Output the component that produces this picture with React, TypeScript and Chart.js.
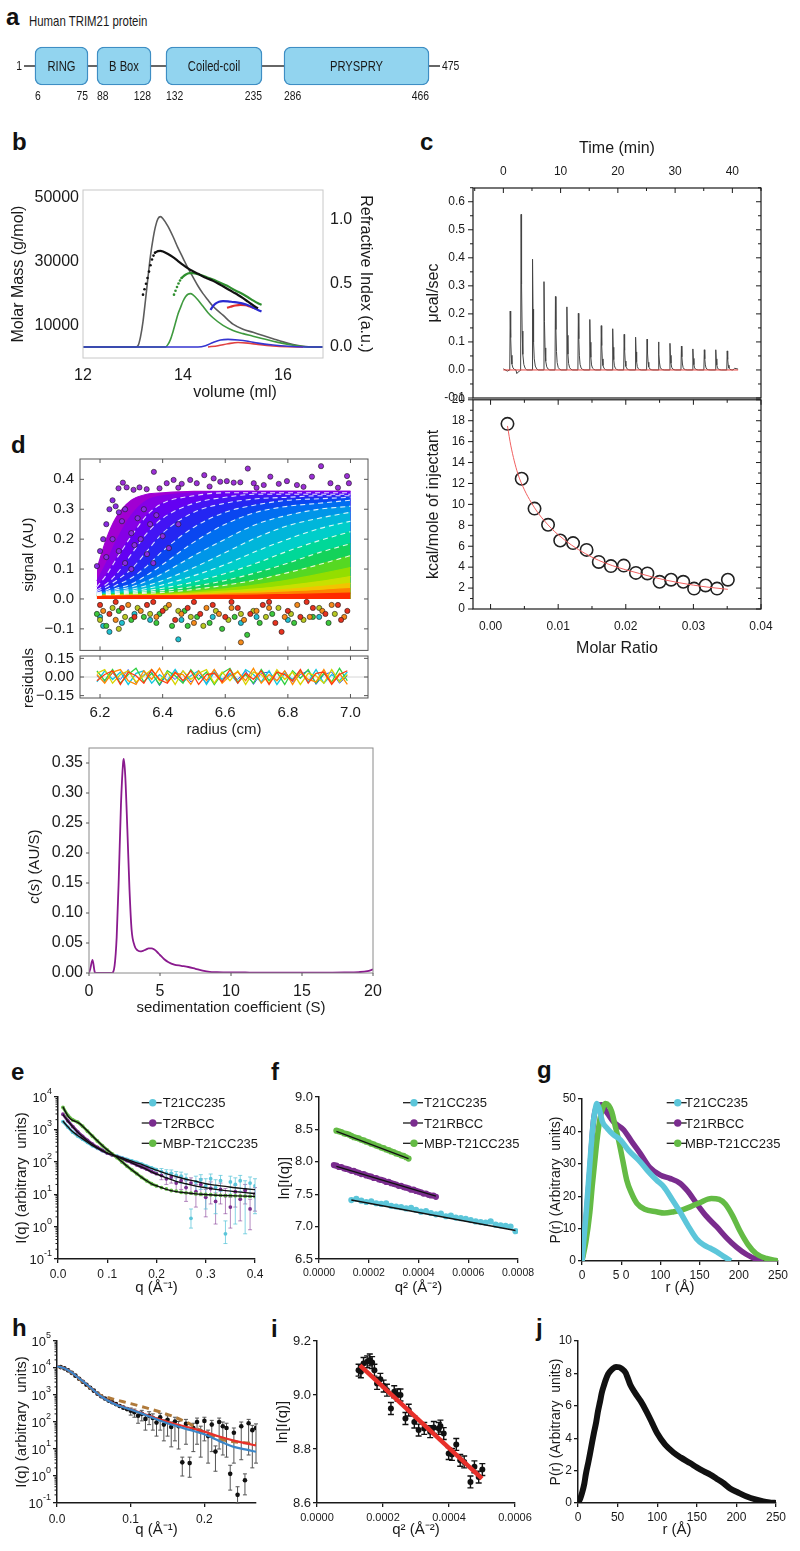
import React, { useEffect, useRef } from 'react';
import { Chart, registerables, LinearScale } from 'chart.js';

Chart.register(...registerables);

const SANS = '"Liberation Sans", Arial, Helvetica, sans-serif';
Chart.defaults.font.family = SANS;
Chart.defaults.color = '#1a1a1a';
Chart.defaults.plugins.legend.display = false;
Chart.defaults.plugins.tooltip.enabled = false;

/* =========================== DATA =========================== */

// (a) domain map of human TRIM21 (residue numbers)
const domainNames = ['RING', 'B Box', 'Coiled-coil', 'PRYSPRY'];
const domainStart = [6, 88, 132, 286];
const domainEnd = [75, 128, 235, 466];
const proteinFirst = 1;
const proteinLast = 475;

// (b) SEC-MALS: volume (ml) vs refractive index (a.u.) / molar mass (g/mol)
const secGrayRI = [[12, 0], [13.05, 0], [13.1, 0.01], [13.15, 0.08], [13.2, 0.2], [13.25, 0.37], [13.3, 0.55], [13.35, 0.72], [13.4, 0.85], [13.45, 0.95], [13.5, 1.01], [13.55, 1.026], [13.6, 1.01], [13.7, 0.95], [13.8, 0.87], [13.9, 0.78], [14.0, 0.7], [14.1, 0.62], [14.2, 0.55], [14.3, 0.48], [14.4, 0.42], [14.5, 0.37], [14.6, 0.32], [14.8, 0.25], [15.0, 0.18], [15.2, 0.14], [15.4, 0.115], [15.6, 0.09], [15.8, 0.065], [16.0, 0.04], [16.2, 0.02], [16.4, 0.006], [16.6, 0], [16.8, 0]];
const secGreenRI = [[12, 0], [13.65, 0], [13.7, 0.02], [13.75, 0.06], [13.8, 0.12], [13.85, 0.19], [13.9, 0.26], [13.95, 0.31], [14.0, 0.36], [14.05, 0.395], [14.1, 0.415], [14.15, 0.42], [14.2, 0.41], [14.3, 0.37], [14.4, 0.32], [14.5, 0.27], [14.6, 0.23], [14.8, 0.17], [15.0, 0.13], [15.2, 0.105], [15.4, 0.085], [15.6, 0.065], [15.8, 0.045], [16.0, 0.028], [16.2, 0.014], [16.4, 0.004], [16.6, 0], [16.8, 0]];
const secBlueRI = [[12, 0], [14.3, 0], [14.45, 0.01], [14.6, 0.035], [14.75, 0.055], [14.9, 0.06], [15.1, 0.055], [15.3, 0.045], [15.5, 0.03], [15.8, 0.015], [16.1, 0.005], [16.4, 0], [16.8, 0]];
const secRedRI = [[14.5, 0], [14.7, 0.01], [14.9, 0.025], [15.1, 0.035], [15.3, 0.03], [15.5, 0.02], [15.8, 0.008], [16.1, 0.002], [16.4, 0]];
const secBlackMMDots = [[13.2, 19800], [13.23, 21500], [13.26, 23200], [13.29, 25000], [13.32, 27000], [13.35, 29000], [13.38, 30800], [13.41, 32000], [13.44, 32900]];
const secBlackMM = [[13.44, 32900], [13.5, 33400], [13.55, 33500], [13.6, 33300], [13.7, 32500], [13.8, 31500], [13.9, 30300], [14.0, 29100], [14.1, 28000], [14.2, 27100], [14.3, 26300], [14.4, 25500], [14.5, 24800], [14.6, 24100], [14.7, 23300], [14.8, 22400], [14.9, 21500], [15.0, 20600], [15.1, 19700], [15.2, 18700], [15.3, 17600], [15.4, 16500], [15.5, 15500]];
const secGreenMMDots = [[13.82, 19800], [13.85, 21000], [13.88, 22200], [13.91, 23300], [13.94, 24200], [13.97, 25000]];
const secGreenMM = [[13.97, 25000], [14.05, 26000], [14.13, 26500], [14.2, 26500], [14.3, 26200], [14.4, 25700], [14.5, 25100], [14.6, 24500], [14.7, 23800], [14.8, 23100], [14.9, 22400], [15.0, 21500], [15.1, 20700], [15.2, 19900], [15.3, 19000], [15.4, 18000], [15.5, 17100], [15.57, 16600]];
const secBlueMM = [[14.55, 15000], [14.6, 16200], [14.65, 17000], [14.72, 17600], [14.8, 17800], [14.9, 17700], [15.0, 17500], [15.1, 17300], [15.2, 17000], [15.3, 16500], [15.4, 15800], [15.5, 15000], [15.57, 14500]];
const secRedMM = [[14.88, 15700], [14.95, 16000], [15.05, 16400], [15.15, 16600], [15.25, 16500], [15.35, 16000], [15.45, 15500]];
const secVolumeTicks = [12, 14, 16];
const secMassTicks = [10000, 30000, 50000];
const secRITicks = [0, 0.5, 1];

// (c) ITC raw heats: injection times (min), peak heights (µcal/sec)
const itcTimes = [1.2, 3.1, 5.1, 7.1, 9.1, 11.1, 13.1, 15.1, 17.1, 19.1, 21.1, 23.1, 25.1, 27.1, 29.1, 31.1, 33.1, 35.1, 37.1, 39.1];
const itcHeights = [0.21, 0.555, 0.395, 0.315, 0.262, 0.225, 0.202, 0.18, 0.158, 0.147, 0.127, 0.117, 0.11, 0.1, 0.095, 0.085, 0.075, 0.072, 0.072, 0.068];
const itcSpikeOffsets = [-0.08, 0, 0.08, 0.18, 0.3, 0.48, 0.72, 1.0];
const itcSpikeFractions = [0, 1, 0.55, 0.25, 0.1, 0.035, 0.01, 0];
const itcBaseline = [[0, 0.004], [0.7, -0.004], [2.35, -0.013], [2.6, -0.007], [2.95, -0.002], [40.4, 0.006], [41, 0.003]];
// (c) integrated heats
const itcRatio = [0.0025, 0.0046, 0.0065, 0.0085, 0.0103, 0.0122, 0.0142, 0.016, 0.0178, 0.0197, 0.0215, 0.0232, 0.025, 0.0267, 0.0285, 0.0301, 0.0318, 0.0335, 0.0351];
const itcHeat = [17.7, 12.45, 9.6, 8.05, 6.55, 6.3, 5.65, 4.5, 4.1, 4.15, 3.45, 3.4, 2.6, 2.8, 2.6, 1.95, 2.25, 1.95, 2.8];
const itcFitRatio = [0.0025, 0.003, 0.004, 0.005, 0.006, 0.007, 0.008, 0.009, 0.01, 0.012, 0.014, 0.016, 0.018, 0.02, 0.022, 0.024, 0.026, 0.028, 0.03, 0.032, 0.0351];
const itcFitHeat = [17.5, 15.6, 13.0, 11.4, 10.2, 9.2, 8.4, 7.7, 7.1, 6.1, 5.3, 4.65, 4.15, 3.75, 3.4, 3.05, 2.75, 2.5, 2.28, 2.1, 1.88];
const itcTimeTicks = [0, 10, 20, 30, 40];
const itcPowerTicks = [-0.1, 0, 0.1, 0.2, 0.3, 0.4, 0.5, 0.6];
const itcHeatTicks = [0, 2, 4, 6, 8, 10, 12, 14, 16, 18, 20];
const itcRatioTicks = [0, 0.01, 0.02, 0.03, 0.04];

// (d) sedimentation velocity scans (radius cm, signal AU), early -> late
const sedRadius = [6.19, 6.22, 6.25, 6.3, 6.35, 6.4, 6.5, 6.6, 6.7, 6.8, 6.9, 7.0];
const sedScans = [
  [0.10, 0.20, 0.27, 0.33, 0.35, 0.355, 0.36, 0.36, 0.36, 0.36, 0.36, 0.36],
  [0.06, 0.12, 0.19, 0.28, 0.33, 0.345, 0.355, 0.36, 0.36, 0.36, 0.36, 0.36],
  [0.04, 0.08, 0.13, 0.21, 0.28, 0.32, 0.345, 0.355, 0.355, 0.355, 0.355, 0.355],
  [0.03, 0.05, 0.08, 0.15, 0.22, 0.27, 0.32, 0.34, 0.35, 0.35, 0.35, 0.35],
  [0.025, 0.04, 0.06, 0.10, 0.16, 0.22, 0.29, 0.32, 0.335, 0.34, 0.345, 0.345],
  [0.02, 0.03, 0.045, 0.07, 0.11, 0.16, 0.24, 0.29, 0.315, 0.33, 0.335, 0.34],
  [0.02, 0.025, 0.035, 0.05, 0.08, 0.115, 0.19, 0.25, 0.29, 0.31, 0.32, 0.33],
  [0.018, 0.022, 0.03, 0.04, 0.06, 0.085, 0.145, 0.2, 0.25, 0.28, 0.3, 0.31],
  [0.016, 0.02, 0.025, 0.032, 0.045, 0.062, 0.105, 0.155, 0.205, 0.245, 0.27, 0.29],
  [0.015, 0.018, 0.022, 0.027, 0.035, 0.047, 0.078, 0.115, 0.16, 0.2, 0.235, 0.26],
  [0.014, 0.016, 0.019, 0.023, 0.028, 0.036, 0.057, 0.085, 0.12, 0.16, 0.195, 0.225],
  [0.013, 0.015, 0.017, 0.02, 0.023, 0.028, 0.042, 0.062, 0.088, 0.12, 0.155, 0.185],
  [0.012, 0.014, 0.015, 0.017, 0.019, 0.022, 0.032, 0.046, 0.064, 0.088, 0.115, 0.145],
  [0.012, 0.013, 0.014, 0.015, 0.016, 0.018, 0.025, 0.034, 0.047, 0.063, 0.083, 0.105],
  [0.011, 0.012, 0.013, 0.013, 0.014, 0.015, 0.02, 0.026, 0.034, 0.045, 0.058, 0.075],
  [0.01, 0.011, 0.011, 0.012, 0.012, 0.013, 0.016, 0.02, 0.025, 0.032, 0.041, 0.052],
  [0.01, 0.01, 0.01, 0.011, 0.011, 0.011, 0.013, 0.016, 0.019, 0.023, 0.028, 0.035],
  [0.009, 0.009, 0.009, 0.01, 0.01, 0.01, 0.011, 0.012, 0.013, 0.015, 0.017, 0.02],
];
const sedTopDots = [[6.259, 0.37], [6.273, 0.389], [6.285, 0.373], [6.307, 0.365], [6.326, 0.373], [6.349, 0.367], [6.372, 0.425], [6.39, 0.37], [6.413, 0.387], [6.435, 0.398], [6.461, 0.385], [6.488, 0.398], [6.509, 0.387], [6.533, 0.414], [6.563, 0.403], [6.584, 0.392], [6.605, 0.394], [6.627, 0.389], [6.648, 0.39], [6.672, 0.436], [6.691, 0.387], [6.723, 0.381], [6.744, 0.409], [6.771, 0.385], [6.797, 0.394], [6.829, 0.381], [6.877, 0.409], [6.906, 0.444], [6.936, 0.387], [6.989, 0.411], [6.995, 0.387], [6.45, 0.372], [6.55, 0.376], [6.7, 0.372], [6.85, 0.375], [6.96, 0.372]];
const sedRiseDots = [[6.19, 0.11], [6.2, 0.16], [6.21, 0.2], [6.22, 0.25], [6.23, 0.3], [6.24, 0.33], [6.25, 0.31], [6.26, 0.29], [6.27, 0.26], [6.28, 0.3], [6.3, 0.22], [6.32, 0.27], [6.34, 0.3], [6.36, 0.25], [6.38, 0.28], [6.31, 0.18], [6.33, 0.2], [6.35, 0.15], [6.22, 0.14], [6.24, 0.2], [6.26, 0.16], [6.28, 0.12], [6.3, 0.1], [6.4, 0.21], [6.42, 0.17], [6.45, 0.25], [6.37, 0.12]];
const sedDotsRed = [[6.2, -0.02], [6.23, -0.05], [6.27, -0.03], [6.31, -0.06], [6.35, -0.02], [6.4, -0.04], [6.44, -0.07], [6.48, -0.03], [6.52, -0.05], [6.56, -0.02], [6.6, -0.06], [6.64, -0.03], [6.68, -0.05], [6.72, -0.02], [6.76, -0.08], [6.78, -0.11], [6.8, -0.04], [6.84, -0.06], [6.88, -0.03], [6.92, -0.05], [6.96, -0.02], [6.99, -0.04], [6.25, -0.01], [6.37, -0.01], [6.5, -0.01], [6.62, -0.01], [6.74, -0.01], [6.86, -0.01], [6.97, -0.07]];
const sedDotsOrange = [[6.21, -0.04], [6.25, -0.07], [6.29, -0.02], [6.33, -0.04], [6.38, -0.06], [6.42, -0.02], [6.46, -0.05], [6.5, -0.08], [6.54, -0.03], [6.58, -0.05], [6.62, -0.03], [6.65, -0.145], [6.66, -0.07], [6.7, -0.04], [6.74, -0.03], [6.79, -0.06], [6.83, -0.02], [6.87, -0.06], [6.91, -0.04], [6.94, -0.02], [6.98, -0.06]];
const sedDotsYellow = [[6.2, -0.07], [6.24, -0.03], [6.28, -0.06], [6.32, -0.03], [6.36, -0.05], [6.41, -0.03], [6.45, -0.04], [6.49, -0.06], [6.53, -0.09], [6.57, -0.04], [6.61, -0.07], [6.65, -0.05], [6.69, -0.04], [6.73, -0.06], [6.77, -0.03], [6.81, -0.05], [6.85, -0.07], [6.9, -0.03], [6.95, -0.05], [6.26, -0.1]];
const sedDotsGreen = [[6.19, -0.05], [6.22, -0.09], [6.26, -0.04], [6.3, -0.07], [6.34, -0.06], [6.39, -0.05], [6.43, -0.09], [6.47, -0.04], [6.51, -0.06], [6.55, -0.08], [6.59, -0.1], [6.63, -0.06], [6.67, -0.12], [6.71, -0.08], [6.75, -0.05], [6.82, -0.08], [6.88, -0.06], [6.93, -0.08], [6.48, -0.09], [6.38, -0.08]];
const sedDotsCyan = [[6.2, -0.06], [6.21, -0.09], [6.23, -0.11], [6.27, -0.08], [6.31, -0.05], [6.36, -0.07], [6.46, -0.07], [6.56, -0.06], [6.65, -0.08], [6.7, -0.06], [6.8, -0.07], [6.9, -0.06], [6.45, -0.135]];
const sedSignalTicks = [-0.1, 0, 0.1, 0.2, 0.3, 0.4];
const sedRadiusTicks = [6.2, 6.4, 6.6, 6.8, 7.0];
// (d) residuals
const resRadius = [6.19, 6.215, 6.24, 6.265, 6.29, 6.315, 6.34, 6.365, 6.39, 6.415, 6.44, 6.465, 6.49, 6.515, 6.54, 6.565, 6.59, 6.615, 6.64, 6.665, 6.69, 6.715, 6.74, 6.765, 6.79, 6.815, 6.84, 6.865, 6.89, 6.915, 6.94, 6.965, 6.99];
const resGreen = [0.05, -0.03, 0.06, -0.05, 0.02, 0.07, -0.04, 0.03, -0.06, 0.05, 0.01, -0.05, 0.06, -0.02, 0.04, -0.06, 0.03, 0.07, -0.04, 0.02, -0.05, 0.06, -0.03, 0.04, -0.06, 0.05, -0.01, 0.06, -0.05, 0.03, -0.04, 0.07, -0.03];
const resCyan = [-0.04, 0.05, -0.02, 0.04, -0.06, 0.03, 0.05, -0.05, 0.02, -0.03, 0.06, -0.04, 0.01, 0.05, -0.06, 0.04, -0.02, 0.03, -0.05, 0.06, 0.02, -0.04, 0.05, -0.06, 0.03, -0.02, 0.05, -0.04, 0.06, -0.05, 0.02, -0.03, 0.04];
const resYellow = [0.03, 0.06, -0.05, 0.02, 0.05, -0.04, 0.01, 0.06, -0.03, 0.04, -0.06, 0.05, -0.02, 0.03, 0.06, -0.05, 0.04, -0.03, 0.05, -0.06, 0.04, 0.02, -0.05, 0.06, -0.02, 0.04, -0.06, 0.03, 0.01, -0.05, 0.06, -0.04, 0.02];
const resOrange = [0.02, -0.05, 0.04, 0.06, -0.03, -0.06, 0.05, -0.02, 0.07, -0.04, 0.03, 0.02, -0.06, 0.05, -0.03, 0.06, -0.05, 0.01, 0.04, -0.03, 0.07, -0.05, 0.02, -0.03, 0.05, -0.06, 0.04, -0.02, -0.04, 0.06, -0.05, 0.03, -0.06];
const resRed = [-0.03, 0.02, 0.05, -0.06, 0.04, 0.01, -0.05, 0.06, -0.02, -0.05, 0.04, -0.03, 0.05, -0.06, 0.02, 0.03, -0.04, 0.06, -0.05, 0.03, -0.02, 0.05, -0.06, 0.04, 0.02, -0.03, 0.06, -0.05, 0.03, 0.04, -0.06, 0.02, 0.05];
const resBlue = [0.01, -0.04, 0.03, -0.02, 0.06, -0.05, 0.02, 0.04, -0.07, 0.03, -0.02, 0.05, -0.04, 0.02, -0.05, 0.06, -0.03, 0.02, -0.02, 0.05, -0.06, 0.03, 0.04, -0.03, 0.05, -0.04, 0.02, 0.05, -0.06, 0.02, 0.04, -0.05, 0.01];
const resTicks = [-0.15, 0, 0.15];
// (d) c(s) distribution
const csS = [0, 0.1, 0.25, 0.4, 0.5, 1.0, 1.6, 1.8, 1.95, 2.1, 2.25, 2.4, 2.45, 2.55, 2.7, 2.85, 3.0, 3.2, 3.4, 3.6, 3.8, 4.0, 4.2, 4.4, 4.6, 4.8, 5.0, 5.3, 5.6, 6.0, 6.5, 7.0, 7.5, 8.0, 8.5, 9.0, 10, 11, 12, 14, 16, 18, 19, 19.6, 20];
const csVal = [0, 0.008, 0.022, 0.002, 0, 0, 0, 0.012, 0.06, 0.16, 0.28, 0.35, 0.357, 0.33, 0.24, 0.14, 0.072, 0.046, 0.038, 0.036, 0.037, 0.039, 0.041, 0.041, 0.039, 0.035, 0.03, 0.023, 0.018, 0.014, 0.012, 0.01, 0.007, 0.004, 0.002, 0.0015, 0.001, 0.0008, 0.0006, 0.0005, 0.0005, 0.0008, 0.0015, 0.003, 0.006];
const csTicksY = [0, 0.05, 0.1, 0.15, 0.2, 0.25, 0.3, 0.35];
const csTicksX = [0, 5, 10, 15, 20];

// (e) SAXS curves, q (1/Å) vs I(q)
const saxsLabelsE = ['T21CC235', 'T2RBCC', 'MBP-T21CC235'];
const qE = [0.01, 0.02, 0.03, 0.04, 0.05, 0.06, 0.07, 0.08, 0.09, 0.10, 0.11, 0.12, 0.13, 0.14, 0.15, 0.16, 0.17, 0.18, 0.19, 0.20, 0.21, 0.22, 0.23, 0.24, 0.25, 0.26, 0.27, 0.28, 0.29, 0.30, 0.31, 0.32, 0.33, 0.34, 0.35, 0.36, 0.37, 0.38, 0.39, 0.40];
const cyanE = [1750, 1180, 820, 630, 500, 395, 315, 262, 220, 188, 166, 149, 133, 119, 106, 95, 85, 74, 65, 57, 50, 45, 44, 38, 36, 30, 1.8, 24, 28, 18, 30, 16, 26, 0.6, 24, 20, 26, 14, 22, 18];
const purpleE = [2950, 1850, 1220, 840, 610, 455, 350, 278, 226, 188, 163, 142, 124, 108, 94, 80, 69, 60, 50, 43, 38, 30, 34, 22, 26, 16, 22, 12, 20, 8, 15, 6, 14, 9, 4, 12, 7, 13, 3.5, 10];
const greenE = [4800, 2700, 1950, 1680, 1250, 880, 620, 440, 315, 232, 176, 134, 99, 74, 56, 43, 33, 26, 21, 18, 16, 14.5, 13, 12.5, 11.5, 11, 10.8, 10.2, 10, 9.8, 9.6, 9.4, 9.2, 9.1, 9, 8.9, 8.8, 8.7, 8.6, 8.5];
// error bars for q >= 0.21 (last 20 points)
const cyanELow = [38, 33, 30, 24, 22, 16, 0.9, 12, 14, 3.5, 16, 2.5, 12, 0.3, 10, 1.2, 12, 0.6, 8, 2.5];
const cyanEHigh = [62, 57, 56, 50, 48, 42, 3.5, 36, 40, 30, 42, 28, 38, 1.5, 36, 32, 38, 26, 34, 30];
const purpleELow = [28, 20, 22, 12, 14, 6, 10, 4, 9, 2, 5, 1.2, 5, 2.5, 0.9, 4, 1.5, 5, 0.8, 3];
const purpleEHigh = [48, 40, 45, 32, 36, 26, 32, 20, 30, 14, 24, 11, 22, 15, 8, 19, 12, 20, 7, 16];
const qFitE = [0.01, 0.015, 0.02, 0.025, 0.03, 0.035, 0.04, 0.045, 0.05, 0.06, 0.07, 0.08, 0.09, 0.1, 0.11, 0.12, 0.13, 0.14, 0.15, 0.16, 0.17, 0.18, 0.19, 0.2, 0.22, 0.24, 0.26, 0.28, 0.3, 0.32, 0.34, 0.36, 0.38, 0.4];
const cyanFitE = [1820, 1470, 1200, 1000, 850, 740, 650, 575, 510, 400, 316, 263, 219, 186, 166, 148, 132, 117, 105, 93, 83, 72, 63, 55, 43, 35, 29, 25, 21, 19, 17.4, 15.8, 14.8, 13.8];
const purpleFitE = [2880, 2300, 1820, 1480, 1200, 1000, 830, 700, 600, 447, 347, 275, 224, 186, 162, 141, 123, 107, 93, 79, 68, 58, 49, 42, 32, 25, 21, 17.8, 15.8, 14.1, 12.9, 12, 11.2, 10.5];
const greenFitE = [5000, 3550, 2630, 2140, 1900, 1780, 1660, 1480, 1260, 890, 630, 447, 316, 234, 178, 135, 100, 74, 56, 43, 33, 26, 21, 18.2, 14.1, 12, 11, 10.2, 9.8, 9.3, 9.1, 8.9, 8.7, 8.5];
const eXTicks = [0, 0.1, 0.2, 0.3, 0.4];
const eXTickLabels = ['0.0', '0 .1', '0.2', '0 .3', '0.4'];
const eLogExps = [-1, 0, 1, 2, 3, 4];

// (f) Guinier plots, q² (×10⁻⁵ Å⁻²) vs ln I(q)
const saxsLabelsF = ['T21CC235', 'T21RBCC', 'MBP-T21CC235'];
const fGreenQ2 = [7, 8, 9, 10, 11, 12, 13, 14, 15, 16, 17, 18, 19, 20, 21, 22, 23, 24, 25, 26, 27, 28, 29, 30, 31, 32, 33, 34, 35, 36];
const fGreenLn = [8.48, 8.47, 8.46, 8.44, 8.43, 8.42, 8.40, 8.38, 8.37, 8.36, 8.34, 8.33, 8.31, 8.30, 8.28, 8.27, 8.25, 8.24, 8.22, 8.21, 8.19, 8.18, 8.16, 8.15, 8.13, 8.12, 8.10, 8.09, 8.07, 8.05];
const fPurpleQ2 = [6, 7, 8, 9, 10, 11, 12, 13, 14, 15, 16, 17, 18, 19, 20, 21, 22, 23, 24, 25, 26, 27, 28, 29, 30, 31, 32, 33, 34, 35, 36, 37, 38, 39, 40, 41, 42, 43, 44, 45, 46, 47];
const fPurpleLn = [7.95, 7.94, 7.92, 7.92, 7.90, 7.89, 7.88, 7.86, 7.86, 7.84, 7.83, 7.81, 7.81, 7.79, 7.78, 7.77, 7.75, 7.75, 7.73, 7.72, 7.71, 7.69, 7.69, 7.67, 7.66, 7.65, 7.63, 7.63, 7.61, 7.60, 7.59, 7.57, 7.57, 7.55, 7.54, 7.53, 7.51, 7.51, 7.49, 7.48, 7.48, 7.46];
const fCyanQ2 = [13, 15, 17, 19, 21, 23, 25, 27, 29, 31, 33, 35, 37, 39, 41, 43, 45, 47, 49, 51, 53, 55, 57, 59, 61, 63, 65, 67, 69, 71, 73, 75, 77, 79];
const fCyanLn = [7.41, 7.43, 7.40, 7.38, 7.39, 7.36, 7.35, 7.36, 7.32, 7.31, 7.30, 7.28, 7.29, 7.26, 7.23, 7.24, 7.21, 7.19, 7.20, 7.16, 7.17, 7.14, 7.13, 7.12, 7.10, 7.08, 7.07, 7.06, 7.08, 7.03, 7.02, 7.01, 7.00, 6.93];
const fGreenFit = [[7, 8.47], [36, 8.05]];
const fPurpleFit = [[7, 7.93], [47, 7.47]];
const fCyanFit = [[13, 7.41], [79, 6.94]];
const fYTicks = [6.5, 7.0, 7.5, 8.0, 8.5, 9.0];
const fXTicks = [0, 0.0002, 0.0004, 0.0006, 0.0008];

// (g) pair distance distributions, r (Å) vs P(r)
const gCyan = [[0, 0], [5, 14], [10, 30], [14, 42], [17, 47], [19, 48.6], [22, 47], [26, 43], [32, 41], [40, 39], [49, 37.4], [60, 34], [74, 30.7], [85, 27.5], [95, 25], [104, 23], [115, 19], [125, 15.2], [135, 11], [146, 6.9], [155, 5], [163, 4], [172, 2.8], [180, 1.5], [190, 0]];
const gPurple = [[0, 0], [5, 12], [10, 28], [15, 44], [20, 48], [25, 48.2], [30, 46.5], [40, 43], [53, 40.5], [63, 37], [74, 33.3], [86, 29], [100, 26.5], [112, 25.5], [125, 24], [135, 21.5], [146, 17.8], [158, 14], [172, 10.5], [185, 7], [197, 4.3], [210, 2], [222, 0.6], [231, 0]];
const gGreen = [[0, 0], [5, 6], [10, 15], [13, 23], [16, 30], [19, 37], [23, 44], [27, 47.5], [30, 48.6], [34, 48], [38, 46], [42, 42], [47, 37], [52, 31], [57, 25], [63, 21], [70, 17.8], [80, 16], [95, 15.2], [105, 14.8], [117, 15.2], [128, 15.8], [138, 16.7], [150, 18], [165, 19.3], [175, 19], [183, 17.5], [192, 14], [201, 9.5], [212, 5], [222, 2.3], [235, 0.8], [250, 0]];
const gYTicks = [0, 10, 20, 30, 40, 50];
const gXTicks = [0, 50, 100, 150, 200, 250];
const gXTickLabels = ['0', '5 0', '100', '150', '200', '250'];

// (h) SAXS with model fits
const hQ = [0.005, 0.01, 0.015, 0.02, 0.025, 0.03, 0.035, 0.04, 0.045, 0.05, 0.055, 0.06, 0.065, 0.07, 0.075, 0.08, 0.085, 0.09, 0.095, 0.1, 0.105, 0.11, 0.115, 0.12, 0.125, 0.13, 0.135, 0.14, 0.145, 0.15, 0.155, 0.16, 0.165, 0.17, 0.175, 0.18, 0.185, 0.19, 0.195, 0.2, 0.205, 0.21, 0.215, 0.22, 0.225, 0.23, 0.235, 0.24, 0.245, 0.25, 0.255, 0.26, 0.265, 0.27];
const hI = [10800, 9700, 8200, 6600, 5200, 4000, 3100, 2400, 1850, 1450, 1120, 900, 740, 620, 540, 460, 390, 340, 300, 260, 230, 170, 200, 130, 170, 140, 95, 150, 80, 120, 65, 105, 70, 3.2, 85, 3.0, 60, 100, 45, 110, 30, 80, 8, 100, 70, 60, 1.2, 40, 0.2, 70, 0.7, 90, 50, 60];
// error bars from q = 0.1 on (last 35 points)
const hLow = [180, 150, 90, 110, 50, 80, 50, 30, 50, 20, 30, 12, 20, 10, 1.0, 15, 0.9, 8, 15, 5, 20, 3, 8, 1.5, 10, 6, 5, 0.3, 3, 0.1, 4, 0.2, 6, 2, 3];
const hHigh = [330, 300, 240, 270, 190, 240, 200, 140, 210, 120, 170, 100, 150, 105, 5, 125, 5, 90, 140, 70, 150, 50, 115, 13, 140, 100, 90, 2.5, 60, 0.4, 100, 1.2, 125, 75, 85];
const hQFit = [0, 0.01, 0.02, 0.03, 0.04, 0.05, 0.06, 0.07, 0.08, 0.09, 0.1, 0.12, 0.14, 0.16, 0.18, 0.2, 0.22, 0.24, 0.26, 0.27];
const hBlue = [11500, 9800, 6800, 4100, 2500, 1450, 880, 600, 440, 350, 290, 182, 112, 74, 51, 35, 20, 12, 9.1, 7.9];
const hRed = [11500, 9800, 6800, 4100, 2500, 1450, 880, 610, 450, 360, 295, 190, 122, 84, 62, 44, 29, 20.5, 15.5, 13.5];
const hBrown = [11500, 9800, 6700, 4000, 2400, 1450, 950, 790, 660, 560, 480, 340, 234, 151, 85, 40, 24, 18.6, 16.6, 15.8];
const hXTicks = [0, 0.1, 0.2];
const hLogExps = [-1, 0, 1, 2, 3, 4, 5];

// (i) Guinier, q² (×10⁻⁵ Å⁻²) vs ln I(q)
const iQ2 = [12.6, 13.3, 14.1, 15.2, 16.0, 16.7, 17.4, 18.2, 19.2, 20.2, 21.2, 22.4, 23.4, 24.4, 25.3, 26.8, 27.8, 29.5, 30.8, 32.5, 34.3, 35.4, 36.9, 37.4, 38.4, 39.9, 40.9, 42.2, 43.4, 44.6, 46.5, 47.7, 49.0, 50.1];
const iLn = [9.092, 9.086, 9.117, 9.123, 9.13, 9.12, 9.092, 9.043, 9.058, 9.033, 9.018, 8.95, 9.012, 9.0, 9.0, 8.913, 8.944, 8.9, 8.87, 8.876, 8.864, 8.88, 8.876, 8.885, 8.857, 8.783, 8.78, 8.817, 8.758, 8.752, 8.678, 8.734, 8.696, 8.724];
const iErr = 0.022;
const iFit = [[13, 9.11], [50, 8.69]];
const iYTicks = [8.6, 8.8, 9.0, 9.2];
const iXTicks = [0, 0.0002, 0.0004, 0.0006];

// (j) P(r)
const jR = [0, 3, 5, 8, 10, 13, 15, 18, 20, 23, 25, 28, 30, 33, 35, 38, 40, 44, 48, 52, 55, 60, 66, 72, 79, 87, 94, 100, 110, 121, 130, 142, 150, 159, 167, 175, 183, 192, 202, 213, 224, 234, 242, 248, 250];
const jP = [0, 0.3, 0.6, 1.2, 1.8, 2.5, 3.0, 3.8, 4.3, 5.0, 5.6, 6.3, 6.8, 7.3, 7.6, 7.95, 8.1, 8.3, 8.4, 8.38, 8.3, 8.05, 7.3, 6.8, 6.3, 5.6, 4.9, 4.3, 3.6, 3.1, 2.8, 2.45, 2.2, 1.95, 1.75, 1.5, 1.25, 0.9, 0.65, 0.4, 0.22, 0.1, 0.04, 0.01, 0];
const jYTicks = [0, 2, 4, 6, 8, 10];
const jXTicks = [0, 50, 100, 150, 200, 250];

/* =========================== STYLE =========================== */
const C_CYAN = '#5CC6DA';
const C_PURPLE = '#7A2C8E';
const C_GREEN = '#64BB45';
const sedColors = ['#a100d2', '#8500e6', '#6400f2', '#4314f4', '#2426f2', '#0a46f0', '#006ef0', '#0096e8', '#00b6da', '#00ceca', '#00d898', '#14d25a', '#56d822', '#94de00', '#c8e000', '#f2c400', '#ff8400', '#ff2a00'];
// schematic (not-to-scale) placement of residues along the drawn backbone in panel a
const schematicAnchors = [[1, 0], [6, 0.0264], [75, 0.1538], [88, 0.1755], [128, 0.3053], [132, 0.3413], [235, 0.5721], [286, 0.625], [466, 0.9736], [475, 1]];

/* schematic scale: a linear scale whose pixel mapping follows the diagram's anchors */
class SchematicScale extends (LinearScale as any) {
  getPixelForValue(value: number) {
    const a = schematicAnchors;
    let f = a[0][1];
    if (value >= a[a.length - 1][0]) f = a[a.length - 1][1];
    else if (value > a[0][0]) {
      for (let i = 1; i < a.length; i++) {
        if (value <= a[i][0]) {
          const [r0, f0] = a[i - 1];
          const [r1, f1] = a[i];
          f = f0 + ((f1 - f0) * (value - r0)) / (r1 - r0);
          break;
        }
      }
    }
    return (this as any).getPixelForDecimal(f);
  }
}
(SchematicScale as any).id = 'schematic';
(SchematicScale as any).defaults = (LinearScale as any).defaults;
Chart.register(SchematicScale as any);

/* =========================== HELPERS =========================== */
const pts = (xs: number[], ys: number[], sx = 1) => xs.map((x, i) => ({ x: x * sx, y: ys[i] }));
const pairs = (p: number[][], sx = 1) => p.map(([x, y]) => ({ x: x * sx, y }));
const steps = (a: number, b: number, s: number) => { const r: number[] = []; for (let v = a; v <= b + 1e-9; v += s) r.push(+v.toFixed(6)); return r; };
const logMinors = (e0: number, e1: number) => { const r: number[] = []; for (let e = e0; e < e1; e++) for (let m = 2; m <= 9; m++) r.push(m * Math.pow(10, e)); return r; };

const PG = { display: true, drawOnChartArea: false, drawTicks: true, tickLength: 4, color: '#1a1a1a', lineWidth: 1.3 };
const PB = { display: true, color: '#1a1a1a', width: 1.5 };
const NG = { display: false, drawTicks: false };
const NB = { display: false };

function ax(o: any) {
  return {
    type: o.type || 'linear',
    position: o.position,
    min: o.min,
    max: o.max,
    display: o.display ?? true,
    grid: o.prism ? PG : NG,
    border: o.prism ? PB : NB,
    afterFit: (s: any) => {
      if (o.w != null) s.width = o.w;
      if (o.h != null) s.height = o.h;
      s.paddingLeft = 0; s.paddingRight = 0; s.paddingTop = 0; s.paddingBottom = 0;
    },
    afterBuildTicks: o.ticks ? (s: any) => { s.ticks = o.ticks.map((v: number) => ({ value: v })); } : undefined,
    ticks: {
      display: o.tickDisplay ?? true,
      font: { size: o.fs || 12 },
      padding: o.pad ?? 3,
      color: '#1a1a1a',
      callback: o.fmt || ((v: number) => String(v)),
      maxRotation: 0,
      minRotation: 0,
      autoSkip: false,
    },
    title: o.title ? { display: true, text: o.title, font: { size: o.tfs || 15 }, color: '#1a1a1a', padding: o.tpad || 0 } : { display: false },
  };
}

function baseOpts(padding: any, scales: any) {
  return {
    responsive: false,
    animation: false,
    events: [],
    layout: { padding },
    scales,
    plugins: { legend: { display: false }, tooltip: { enabled: false } },
  };
}

const tk = (scale: string, side: string, values: number[], len: number, color = '#1a1a1a', width = 1) => ({ scale, side, values, len, color, width });

function narrowText(ctx: any, text: string, x: number, y: number, size: number, align: string, base: string) {
  ctx.save();
  ctx.translate(x, y);
  ctx.scale(0.8, 1);
  ctx.font = `${size}px ${SANS}`;
  ctx.textAlign = align;
  ctx.textBaseline = base;
  ctx.fillText(text, 0, 0);
  ctx.restore();
}

function decor(cfg: any) {
  return {
    id: 'decor',
    beforeDatasetsDraw(chart: any) {
      const ctx = chart.ctx;
      const ca = chart.chartArea;
      ctx.save();
      ctx.beginPath();
      ctx.rect(ca.left - 3, ca.top - 3, ca.right - ca.left + 6, ca.bottom - ca.top + 6);
      ctx.clip();
      chart.data.datasets.forEach((ds: any, di: number) => {
        if (!ds.errLow && !ds.errHigh) return;
        const meta = chart.getDatasetMeta(di);
        const xs = chart.scales[meta.xAxisID];
        const ys = chart.scales[meta.yAxisID];
        ctx.strokeStyle = ds.errColor || '#444';
        ctx.lineWidth = ds.errWidth || 1;
        const cap = ds.errCap ?? 2;
        ds.data.forEach((p: any, i: number) => {
          const lo = ds.errLow ? ds.errLow[i] : null;
          const hi = ds.errHigh ? ds.errHigh[i] : null;
          if (lo == null && hi == null) return;
          const x = xs.getPixelForValue(p.x);
          const y0 = ys.getPixelForValue(p.y);
          const y1 = lo == null ? y0 : ys.getPixelForValue(lo);
          const y2 = hi == null ? y0 : ys.getPixelForValue(hi);
          ctx.beginPath();
          ctx.moveTo(x, y1); ctx.lineTo(x, y2);
          if (lo != null) { ctx.moveTo(x - cap, y1); ctx.lineTo(x + cap, y1); }
          if (hi != null) { ctx.moveTo(x - cap, y2); ctx.lineTo(x + cap, y2); }
          ctx.stroke();
        });
      });
      ctx.restore();
      if (cfg.under) { ctx.save(); cfg.under(chart); ctx.restore(); }
    },
    afterDraw(chart: any) {
      const ctx = chart.ctx;
      const ca = chart.chartArea;
      ctx.save();
      if (cfg.frame) {
        ctx.strokeStyle = cfg.frame.color;
        ctx.lineWidth = cfg.frame.width;
        ctx.strokeRect(ca.left, ca.top, ca.right - ca.left, ca.bottom - ca.top);
      }
      (cfg.ticks || []).forEach((t: any) => {
        const sc = chart.scales[t.scale];
        ctx.strokeStyle = t.color;
        ctx.lineWidth = t.width;
        t.values.forEach((v: number) => {
          const p = sc.getPixelForValue(v);
          ctx.beginPath();
          if (t.side === 'left' || t.side === 'right') {
            if (p < ca.top - 1 || p > ca.bottom + 1) return;
            const x0 = t.side === 'left' ? ca.left : ca.right;
            ctx.moveTo(x0, p);
            ctx.lineTo(t.side === 'left' ? x0 - t.len : x0 + t.len, p);
          } else {
            if (p < ca.left - 1 || p > ca.right + 1) return;
            const y0 = t.side === 'top' ? ca.top : ca.bottom;
            ctx.moveTo(p, y0);
            ctx.lineTo(p, t.side === 'top' ? y0 - t.len : y0 + t.len);
          }
          ctx.stroke();
        });
      });
      (cfg.logLabels || []).forEach((L: any) => {
        const sc = chart.scales[L.scale];
        ctx.fillStyle = '#1a1a1a';
        ctx.textBaseline = 'middle';
        ctx.textAlign = 'left';
        L.exps.forEach((e: number) => {
          const y = sc.getPixelForValue(Math.pow(10, e));
          const es = String(e);
          ctx.font = `${L.expSize}px ${SANS}`;
          const ew = ctx.measureText(es).width;
          const xr = ca.left - L.gap;
          ctx.fillText(es, xr - ew, y - L.size * 0.42);
          ctx.font = `${L.size}px ${SANS}`;
          const bw = ctx.measureText('10').width;
          ctx.fillText('10', xr - ew - bw, y + 1.5);
        });
      });
      (cfg.texts || []).forEach((t: any) => {
        ctx.save();
        ctx.translate(t.x, t.y);
        if (t.rot) ctx.rotate((t.rot * Math.PI) / 180);
        ctx.fillStyle = t.color || '#1a1a1a';
        ctx.textBaseline = 'middle';
        if (t.parts) {
          const fonts = t.parts.map((p: any) => `${p.italic ? 'italic ' : ''}${t.size}px ${SANS}`);
          let total = 0;
          t.parts.forEach((p: any, i: number) => { ctx.font = fonts[i]; total += ctx.measureText(p.t).width; });
          let x = -total / 2;
          ctx.textAlign = 'left';
          t.parts.forEach((p: any, i: number) => { ctx.font = fonts[i]; ctx.fillText(p.t, x, 0); x += ctx.measureText(p.t).width; });
        } else {
          ctx.textAlign = t.align || 'center';
          ctx.font = `${t.size}px ${SANS}`;
          ctx.fillText(t.t, 0, 0);
        }
        ctx.restore();
      });
      if (cfg.legend) {
        const L = cfg.legend;
        L.items.forEach((it: any, i: number) => {
          const y = L.y + i * L.dy;
          ctx.strokeStyle = '#1a1a1a';
          ctx.lineWidth = 1.3;
          ctx.beginPath(); ctx.moveTo(L.x, y); ctx.lineTo(L.x + 20, y); ctx.stroke();
          ctx.fillStyle = it.color;
          ctx.beginPath(); ctx.arc(L.x + 11, y, 3.7, 0, Math.PI * 2); ctx.fill();
          ctx.fillStyle = '#1a1a1a';
          ctx.font = `${L.size}px ${SANS}`;
          ctx.textAlign = 'left';
          ctx.textBaseline = 'middle';
          ctx.fillText(it.label, L.tx, y + 1);
        });
      }
      if (cfg.over) cfg.over(chart);
      ctx.restore();
    },
  };
}

/* =========================== CHART CONFIGS =========================== */

function cfgA() {
  const backbone = (chart: any) => {
    const ctx = chart.ctx, xs = chart.scales.x, ca = chart.chartArea;
    const y = (ca.top + ca.bottom) / 2;
    ctx.strokeStyle = '#333';
    ctx.lineWidth = 1.4;
    ctx.beginPath();
    ctx.moveTo(xs.getPixelForValue(proteinFirst), y);
    ctx.lineTo(xs.getPixelForValue(proteinLast), y);
    ctx.stroke();
  };
  const labels = (chart: any) => {
    const ctx = chart.ctx, xs = chart.scales.x, ca = chart.chartArea;
    const yc = (ca.top + ca.bottom) / 2;
    ctx.fillStyle = '#1a1a1a';
    domainNames.forEach((n, i) => {
      const x0 = xs.getPixelForValue(domainStart[i]);
      const x1 = xs.getPixelForValue(domainEnd[i]);
      narrowText(ctx, n, (x0 + x1) / 2, yc + 1, 14, 'center', 'middle');
      narrowText(ctx, String(domainStart[i]), x0, ca.bottom + 4, 13, 'left', 'alphabetic');
      narrowText(ctx, String(domainEnd[i]), x1, ca.bottom + 4, 13, 'right', 'alphabetic');
    });
    narrowText(ctx, String(proteinFirst), xs.getPixelForValue(proteinFirst) - 2, yc, 13, 'right', 'middle');
    narrowText(ctx, String(proteinLast), xs.getPixelForValue(proteinLast) + 2, yc, 13, 'left', 'middle');
  };
  return {
    type: 'bar',
    data: {
      labels: ['TRIM21'],
      datasets: domainNames.map((n, i) => ({
        label: n,
        data: [[domainStart[i], domainEnd[i]]],
        backgroundColor: '#92D4EF',
        borderColor: '#3E8EC4',
        borderWidth: 1.4,
        borderRadius: 7,
        borderSkipped: false,
        barThickness: 38,
        grouped: false,
      })),
    },
    options: {
      indexAxis: 'y',
      ...baseOpts({ left: 24, right: 40, top: 0, bottom: 15 }, {
        x: { type: 'schematic', min: proteinFirst, max: proteinLast, display: false },
        y: { display: false },
      }),
    },
    plugins: [decor({ under: backbone, over: labels })],
  };
}

function cfgB() {
  const L = (d: number[][], color: string, w: number, axis: string) => ({ data: pairs(d), borderColor: color, borderWidth: w, pointRadius: 0, cubicInterpolationMode: 'monotone', yAxisID: axis });
  const D = (d: number[][], color: string, axis: string) => ({ data: pairs(d), showLine: false, pointRadius: 1.3, pointBackgroundColor: color, pointBorderWidth: 0, yAxisID: axis });
  return {
    type: 'line',
    data: {
      datasets: [
        L(secBlackMM, '#111', 2.2, 'yL'), D(secBlackMMDots, '#111', 'yL'),
        L(secGreenMM, '#2f8f2f', 2.2, 'yL'), D(secGreenMMDots, '#2f8f2f', 'yL'),
        L(secBlueMM, '#2b2bd0', 2.2, 'yL'), L(secRedMM, '#e03030', 2.2, 'yL'),
        L(secBlueRI, '#3535d0', 1.6, 'yR'), L(secRedRI, '#e04040', 1.6, 'yR'),
        L(secGreenRI, '#3f9a3f', 1.6, 'yR'), L(secGrayRI, '#5c5c5c', 1.6, 'yR'),
      ],
    },
    options: baseOpts({ top: 20, left: 0, right: 0, bottom: 0 }, {
      x: ax({ min: 12, max: 16.8, h: 47, ticks: secVolumeTicks, fs: 16, pad: 8 }),
      yL: ax({ position: 'left', min: 0, max: 52500, w: 83, ticks: secMassTicks, fs: 16, pad: 4, title: 'Molar Mass (g/mol)', tfs: 16, tpad: { top: 9 } }),
      yR: ax({ position: 'right', min: -0.087, max: 1.236, w: 57, ticks: secRITicks, fs: 16, pad: 7, fmt: (v: number) => v.toFixed(1) }),
    }),
    plugins: [decor({
      frame: { color: '#c8c8c8', width: 1 },
      texts: [
        { t: 'volume (ml)', x: 235, y: 223, size: 16 },
        { t: 'Refractive Index (a.u.)', x: 365, y: 104, size: 16, rot: 90 },
      ],
    })],
  };
}

function cfgCTop() {
  const trace: any[] = itcBaseline.map(([x, y]) => ({ x, y }));
  itcTimes.forEach((t, i) => itcSpikeOffsets.forEach((o, j) => trace.push({ x: t + o, y: itcHeights[i] * itcSpikeFractions[j] })));
  trace.sort((a, b) => a.x - b.x);
  const yMinor = steps(-0.05, 0.65, 0.1);
  return {
    type: 'line',
    data: {
      datasets: [
        { data: [{ x: 0, y: 0 }, { x: 41, y: 0 }], borderColor: '#e8403c', borderWidth: 1, pointRadius: 0 },
        { data: trace, borderColor: '#444', borderWidth: 1, pointRadius: 0 },
      ],
    },
    options: baseOpts({ top: 0, left: 0, right: 39, bottom: 12 }, {
      x: ax({ position: 'top', min: -5.3, max: 45, h: 58, ticks: itcTimeTicks, fs: 12, pad: 9, title: 'Time (min)', tfs: 16, tpad: { top: 9 } }),
      y: ax({ min: -0.1, max: 0.649, w: 73, ticks: itcPowerTicks, fs: 12, pad: 8, fmt: (v: number) => v.toFixed(1), title: 'μcal/sec', tfs: 16, tpad: { top: 24 } }),
    }),
    plugins: [decor({
      frame: { color: '#1a1a1a', width: 1.2 },
      ticks: [
        tk('y', 'left', itcPowerTicks, 5), tk('y', 'left', yMinor, 3),
        tk('y', 'right', itcPowerTicks, -5), tk('y', 'right', yMinor, -3),
        tk('x', 'top', itcTimeTicks, -5), tk('x', 'top', [-5, 5, 15, 25, 35, 45], -3),
      ],
    })],
  };
}

function cfgCBot() {
  const yMinor = steps(1, 19, 2);
  const xMinor = [0.005, 0.015, 0.025, 0.035];
  return {
    type: 'line',
    data: {
      datasets: [
        { data: pts(itcFitRatio, itcFitHeat), borderColor: '#f06060', borderWidth: 1, pointRadius: 0, cubicInterpolationMode: 'monotone' },
        { data: pts(itcRatio, itcHeat), showLine: false, pointRadius: 6.2, pointBorderWidth: 1.6, pointBorderColor: '#222', pointBackgroundColor: 'rgba(0,0,0,0)' },
      ],
    },
    options: baseOpts({ top: 6, left: 0, right: 39, bottom: 0 }, {
      x: ax({ min: -0.0026, max: 0.04, h: 51, ticks: itcRatioTicks, fs: 12, pad: 10, fmt: (v: number) => v.toFixed(2), title: 'Molar Ratio', tfs: 16, tpad: { bottom: 2 } }),
      y: ax({ min: 0, max: 20, w: 73, ticks: itcHeatTicks, fs: 12, pad: 8, title: 'kcal/mole of injectant', tfs: 16, tpad: { top: 24 } }),
    }),
    plugins: [decor({
      frame: { color: '#1a1a1a', width: 1.2 },
      ticks: [
        tk('y', 'left', itcHeatTicks, 5), tk('y', 'left', yMinor, 3),
        tk('y', 'right', itcHeatTicks, -5), tk('y', 'right', yMinor, -3),
        tk('x', 'bottom', itcRatioTicks, -5), tk('x', 'bottom', xMinor, -3),
        tk('x', 'top', itcRatioTicks, -5), tk('x', 'top', xMinor, -3),
      ],
    })],
  };
}

function cfgDTop() {
  const dot = (d: number[][], color: string) => ({ data: pairs(d), showLine: false, pointRadius: 2.6, pointBackgroundColor: color, pointBorderColor: '#1a1a1a', pointBorderWidth: 0.6 });
  const dashed = sedScans.slice(2, 13).map((scan) => ({ data: pts(sedRadius, scan), borderColor: 'rgba(255,255,255,0.85)', borderWidth: 1.1, borderDash: [5, 4], cubicInterpolationMode: 'monotone', pointRadius: 0, fill: false }));
  const curves = sedScans.map((scan, k) => ({ data: pts(sedRadius, scan), borderColor: sedColors[k], backgroundColor: sedColors[k], borderWidth: 1.2, fill: 'origin', cubicInterpolationMode: 'monotone', pointRadius: 0 })).reverse();
  return {
    type: 'line',
    data: {
      datasets: [
        dot(sedTopDots, '#9b2fd6'), dot(sedRiseDots, '#8a2be2'),
        dot(sedDotsRed, '#e8321e'), dot(sedDotsOrange, '#f58a1a'), dot(sedDotsYellow, '#b8c820'),
        dot(sedDotsGreen, '#3cc83c'), dot(sedDotsCyan, '#20c0d0'),
        ...dashed,
        ...curves,
      ],
    },
    options: baseOpts({ top: 7, left: 0, right: 12, bottom: 3 }, {
      x: { type: 'linear', min: 6.136, max: 7.056, display: false },
      y: ax({ min: -0.172, max: 0.468, w: 80, ticks: sedSignalTicks, fs: 15, pad: 6, fmt: (v: number) => (v < 0 ? '−' + Math.abs(v).toFixed(1) : v.toFixed(1)), title: 'signal (AU)', tfs: 15, tpad: { top: 20 } }),
    }),
    plugins: [decor({
      frame: { color: '#555', width: 1 },
      ticks: [tk('y', 'left', sedSignalTicks, -4, '#555'), tk('y', 'right', sedSignalTicks, -4, '#555'), tk('x', 'top', sedRadiusTicks, -4, '#555'), tk('x', 'bottom', sedRadiusTicks, -4, '#555')],
    })],
  };
}

function cfgDRes() {
  const line = (ys: number[], color: string, w = 1.3) => ({ data: pts(resRadius, ys), borderColor: color, borderWidth: w, pointRadius: 0 });
  const zero = (chart: any) => {
    const ctx = chart.ctx, ca = chart.chartArea;
    const y = chart.scales.y.getPixelForValue(0);
    ctx.strokeStyle = '#d6d6d6';
    ctx.lineWidth = 1;
    ctx.beginPath(); ctx.moveTo(ca.left, y); ctx.lineTo(ca.right, y); ctx.stroke();
  };
  return {
    type: 'line',
    data: {
      datasets: [line(resRed, '#ff3a10'), line(resOrange, '#ff8c00'), line(resYellow, '#d8d400'), line(resGreen, '#30d040'), line(resCyan, '#10c8e0'), line(resBlue, '#3050f0', 1)],
    },
    options: baseOpts({ top: 16, left: 0, right: 12, bottom: 0 }, {
      x: ax({ min: 6.136, max: 7.056, h: 47, ticks: sedRadiusTicks, fs: 15, pad: 6, fmt: (v: number) => v.toFixed(1), title: 'radius (cm)', tfs: 15, tpad: { bottom: 6 } }),
      y: ax({ min: -0.169, max: 0.169, w: 80, ticks: resTicks, fs: 15, pad: 6, fmt: (v: number) => (v < 0 ? '−0.15' : v > 0 ? '0.15' : '0.00') }),
    }),
    plugins: [decor({
      under: zero,
      frame: { color: '#555', width: 1 },
      ticks: [tk('y', 'left', resTicks, -4, '#555'), tk('y', 'right', resTicks, -4, '#555'), tk('x', 'top', sedRadiusTicks, -4, '#555'), tk('x', 'bottom', sedRadiusTicks, -4, '#555')],
      texts: [{ t: 'residuals', x: 29.3, y: 38, size: 15, rot: -90 }],
    })],
  };
}

function cfgDCs() {
  return {
    type: 'line',
    data: { datasets: [{ data: pts(csS, csVal), borderColor: '#8a1a8e', borderWidth: 1.8, pointRadius: 0, cubicInterpolationMode: 'monotone' }] },
    options: baseOpts({ top: 8, left: 0, right: 12, bottom: 0 }, {
      x: ax({ min: 0, max: 20, h: 47, ticks: csTicksX, fs: 16, pad: 9, title: 'sedimentation coefficient (S)', tfs: 15, tpad: { bottom: 3 } }),
      y: ax({ min: 0, max: 0.375, w: 89, ticks: csTicksY, fs: 16, pad: 6, fmt: (v: number) => v.toFixed(2) }),
    }),
    plugins: [decor({
      frame: { color: '#8a8a8a', width: 1 },
      ticks: [tk('y', 'left', csTicksY, 3, '#555'), tk('x', 'bottom', csTicksX, 3, '#555')],
      texts: [{ x: 35, y: 126.7, rot: -90, size: 15, parts: [{ t: 'c', italic: true }, { t: '(' }, { t: 's', italic: true }, { t: ') (AU/S)' }] }],
    })],
  };
}

function prismLog(o: any) {
  return ax({ ...o, type: 'logarithmic', prism: true, tickDisplay: false });
}

function cfgE() {
  const fit = (ys: number[]) => ({ data: pts(qFitE, ys), borderColor: '#111', borderWidth: 1.4, pointRadius: 0, cubicInterpolationMode: 'monotone' });
  const hide = { borderColor: (c: any) => (c.p0.parsed.x >= 0.195 ? 'rgba(0,0,0,0)' : undefined) };
  const data = (ys: number[], color: string, lo?: number[], hi?: number[], errColor?: string) => ({
    data: pts(qE, ys), borderColor: color, borderWidth: 3, pointRadius: 1.9, pointBackgroundColor: color, pointBorderWidth: 0, segment: hide,
    errLow: lo ? qE.map((_, i) => (i >= 20 ? lo[i - 20] : null)) : undefined,
    errHigh: hi ? qE.map((_, i) => (i >= 20 ? hi[i - 20] : null)) : undefined,
    errColor, errWidth: 1, errCap: 2,
  });
  return {
    type: 'line',
    data: {
      datasets: [
        fit(greenFitE), fit(purpleFitE), fit(cyanFitE),
        data(greenE, C_GREEN),
        data(purpleE, C_PURPLE, purpleELow, purpleEHigh, 'rgba(122,44,142,0.55)'),
        data(cyanE, C_CYAN, cyanELow, cyanEHigh, 'rgba(92,198,218,0.75)'),
      ],
    },
    options: baseOpts({ top: 12, left: 0, right: 15, bottom: 0 }, {
      x: ax({ min: 0, max: 0.4, h: 41, prism: true, ticks: eXTicks, fs: 12, pad: 4, fmt: (_v: number, i: number) => eXTickLabels[i], title: 'q (Å⁻¹)', tfs: 15, tpad: { bottom: 3 } }),
      y: prismLog({ min: 0.1, max: 10000, w: 58, ticks: eLogExps.map((e) => Math.pow(10, e)), title: 'I(q) (arbitrary  units)', tfs: 15, tpad: { top: 13 } }),
    }),
    plugins: [decor({
      ticks: [tk('y', 'left', logMinors(-1, 4), 2.5, '#1a1a1a', 1)],
      logLabels: [{ scale: 'y', exps: eLogExps, size: 13, expSize: 9, gap: 6 }],
      legend: { x: 141.7, tx: 162.7, y: 17.7, dy: 20.3, size: 13, items: [{ label: saxsLabelsE[0], color: C_CYAN }, { label: saxsLabelsE[1], color: C_PURPLE }, { label: saxsLabelsE[2], color: C_GREEN }] },
    })],
  };
}

function cfgF() {
  const fit = (p: number[][]) => ({ data: pairs(p, 1e-5), borderColor: '#111', borderWidth: 1.4, pointRadius: 0 });
  const dots = (xs: number[], ys: number[], color: string) => ({ data: pts(xs, ys, 1e-5), showLine: false, pointRadius: 3.1, pointBackgroundColor: color, pointBorderWidth: 0 });
  return {
    type: 'line',
    data: {
      datasets: [
        fit(fGreenFit), fit(fPurpleFit), fit(fCyanFit),
        dots(fGreenQ2, fGreenLn, C_GREEN), dots(fPurpleQ2, fPurpleLn, C_PURPLE), dots(fCyanQ2, fCyanLn, C_CYAN),
      ],
    },
    options: baseOpts({ top: 12, left: 0, right: 27, bottom: 0 }, {
      x: ax({ min: 0, max: 0.0008, h: 41, prism: true, ticks: fXTicks, fs: 10.5, pad: 4, fmt: (v: number) => v.toFixed(4), title: 'q² (Å⁻²)', tfs: 15, tpad: { bottom: 3 } }),
      y: ax({ min: 6.5, max: 9.0, w: 49, prism: true, ticks: fYTicks, fs: 13, pad: 2, fmt: (v: number) => v.toFixed(1), title: 'ln[I(q)]', tfs: 15, tpad: { top: 6 } }),
    }),
    plugins: [decor({
      legend: { x: 133, tx: 154, y: 17.7, dy: 20.3, size: 13, items: [{ label: saxsLabelsF[0], color: C_CYAN }, { label: saxsLabelsF[1], color: C_PURPLE }, { label: saxsLabelsF[2], color: C_GREEN }] },
    })],
  };
}

function cfgG() {
  const line = (p: number[][], color: string) => ({ data: pairs(p), borderColor: color, borderWidth: 5.5, pointRadius: 0, cubicInterpolationMode: 'monotone' });
  return {
    type: 'line',
    data: { datasets: [line(gCyan, C_CYAN), line(gGreen, C_GREEN), line(gPurple, C_PURPLE)] },
    options: baseOpts({ top: 14, left: 0, right: 22, bottom: 0 }, {
      x: ax({ min: 0, max: 250, h: 39, prism: true, ticks: gXTicks, fs: 12, pad: 3, fmt: (_v: number, i: number) => gXTickLabels[i], title: 'r (Å)', tfs: 15, tpad: { bottom: 3 } }),
      y: ax({ min: 0, max: 50, w: 52, prism: true, ticks: gYTicks, fs: 12, pad: 2, title: 'P(r) (Arbitrary  units)', tfs: 14, tpad: { top: 18 } }),
    }),
    plugins: [decor({
      legend: { x: 136.7, tx: 155, y: 17.7, dy: 20.3, size: 13, items: [{ label: saxsLabelsF[0], color: C_CYAN }, { label: saxsLabelsF[1], color: C_PURPLE }, { label: saxsLabelsF[2], color: C_GREEN }] },
    })],
  };
}

function cfgH() {
  const line = (ys: number[], color: string, w: number, dash?: number[]) => ({ data: pts(hQFit, ys), borderColor: color, borderWidth: w, borderDash: dash || [], pointRadius: 0, cubicInterpolationMode: 'monotone' });
  return {
    type: 'line',
    data: {
      datasets: [
        line(hBlue, '#3a86c8', 2.2), line(hRed, '#e8302a', 2.2), line(hBrown, '#b07a3a', 3, [7, 5]),
        {
          data: pts(hQ, hI), showLine: false, pointRadius: 2.3, pointBackgroundColor: '#111', pointBorderWidth: 0,
          errLow: hQ.map((_, i) => (i >= 19 ? hLow[i - 19] : null)),
          errHigh: hQ.map((_, i) => (i >= 19 ? hHigh[i - 19] : null)),
          errColor: '#555', errWidth: 1, errCap: 2,
        },
      ],
    },
    options: baseOpts({ top: 11, left: 0, right: 14, bottom: 0 }, {
      x: ax({ min: 0, max: 0.27, h: 48, prism: true, ticks: hXTicks, fs: 12, pad: 5, fmt: (v: number) => v.toFixed(1), title: 'q (Å⁻¹)', tfs: 15, tpad: { bottom: 12 } }),
      y: prismLog({ min: 0.1, max: 100000, w: 57, ticks: hLogExps.map((e) => Math.pow(10, e)), title: 'I(q) (arbitrary  units)', tfs: 15, tpad: { top: 13 } }),
    }),
    plugins: [decor({
      ticks: [tk('y', 'left', logMinors(-1, 5), 2.5, '#1a1a1a', 1)],
      logLabels: [{ scale: 'y', exps: hLogExps, size: 13, expSize: 9, gap: 6 }],
    })],
  };
}

function cfgI() {
  return {
    type: 'line',
    data: {
      datasets: [
        { data: pairs(iFit, 1e-5), borderColor: '#e8302a', borderWidth: 4.5, pointRadius: 0 },
        {
          data: pts(iQ2, iLn, 1e-5), showLine: false, pointRadius: 3, pointBackgroundColor: '#111', pointBorderWidth: 0,
          errLow: iLn.map((v) => v - iErr), errHigh: iLn.map((v) => v + iErr), errColor: '#111', errWidth: 1.4, errCap: 3,
        },
      ],
    },
    options: baseOpts({ top: 11, left: 0, right: 25, bottom: 0 }, {
      x: ax({ min: 0, max: 0.0006, h: 48, prism: true, ticks: iXTicks, fs: 11, pad: 4, fmt: (v: number) => v.toFixed(4), title: 'q² (Å⁻²)', tfs: 15, tpad: { bottom: 12 } }),
      y: ax({ min: 8.6, max: 9.2, w: 47, prism: true, ticks: iYTicks, fs: 13, pad: 2, fmt: (v: number) => v.toFixed(1), title: 'ln[I(q)]', tfs: 15, tpad: { top: 4 } }),
    }),
    plugins: [decor({})],
  };
}

function cfgJ() {
  return {
    type: 'line',
    data: { datasets: [{ data: pts(jR, jP), borderColor: '#111', borderWidth: 6, pointRadius: 0, cubicInterpolationMode: 'monotone' }] },
    options: baseOpts({ top: 11, left: 0, right: 24, bottom: 0 }, {
      x: ax({ min: 0, max: 250, h: 48, prism: true, ticks: jXTicks, fs: 12, pad: 3, title: 'r (Å)', tfs: 15, tpad: { bottom: 12 } }),
      y: ax({ min: 0, max: 10, w: 48, prism: true, ticks: jYTicks, fs: 12, pad: 2, title: 'P(r) (Arbitrary  units)', tfs: 14, tpad: { top: 18 } }),
    }),
    plugins: [decor({})],
  };
}

/* =========================== COMPONENTS =========================== */

function ChartCanvas({ left, top, w, h, make }: any) {
  const ref = useRef<HTMLCanvasElement | null>(null);
  useEffect(() => {
    const chart = new Chart(ref.current as HTMLCanvasElement, make());
    return () => chart.destroy();
  }, []);
  return <canvas ref={ref} width={w} height={h} style={{ position: 'absolute', left, top, width: w, height: h }} />;
}

function Letter({ x, base, ch }: any) {
  return (
    <div style={{ position: 'absolute', left: x, top: base - 20.3, fontSize: 24, fontWeight: 700, lineHeight: 1, fontFamily: SANS, color: '#111' }}>{ch}</div>
  );
}

export default function App() {
  return (
    <div style={{ position: 'absolute', left: 0, top: 0, width: 800, height: 1551, background: '#fff', overflow: 'hidden', fontFamily: SANS }}>
      <Letter x={6} base={25} ch="a" />
      <div style={{ position: 'absolute', left: 29, top: 13, fontSize: 15, lineHeight: 1, fontFamily: SANS, color: '#1a1a1a', transform: 'scaleX(0.76)', transformOrigin: 'left top', whiteSpace: 'nowrap' }}>Human TRIM21 protein</div>
      <Letter x={12} base={150.7} ch="b" />
      <Letter x={420} base={150} ch="c" />
      <Letter x={11} base={453} ch="d" />
      <Letter x={11} base={1080} ch="e" />
      <Letter x={271} base={1080} ch="f" />
      <Letter x={537} base={1078.3} ch="g" />
      <Letter x={12} base={1336.7} ch="h" />
      <Letter x={271} base={1337} ch="i" />
      <Letter x={536} base={1336.7} ch="j" />

      <ChartCanvas left={0} top={36} w={480} h={75} make={cfgA} />
      <ChartCanvas left={0} top={170} w={380} h={235} make={cfgB} />
      <ChartCanvas left={400} top={130} w={400} h={280} make={cfgCTop} />
      <ChartCanvas left={400} top={392} w={400} h={268} make={cfgCBot} />
      <ChartCanvas left={0} top={452} w={380} h={203} make={cfgDTop} />
      <ChartCanvas left={0} top={640} w={380} h={105} make={cfgDRes} />
      <ChartCanvas left={0} top={740} w={385} h={280} make={cfgDCs} />
      <ChartCanvas left={0} top={1085} w={270} h={215} make={cfgE} />
      <ChartCanvas left={270} top={1085} w={275} h={215} make={cfgF} />
      <ChartCanvas left={530} top={1085} w={270} h={215} make={cfgG} />
      <ChartCanvas left={0} top={1330} w={270} h={221} make={cfgH} />
      <ChartCanvas left={270} top={1330} w={270} h={221} make={cfgI} />
      <ChartCanvas left={530} top={1330} w={270} h={221} make={cfgJ} />
    </div>
  );
}
